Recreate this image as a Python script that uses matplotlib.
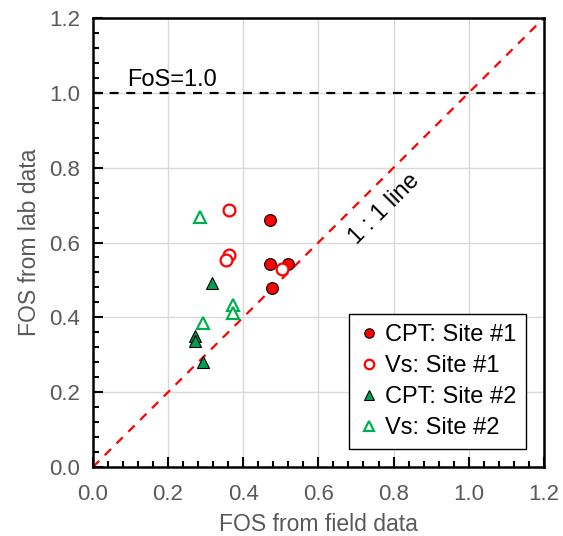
import matplotlib
matplotlib.use("Agg")
import matplotlib.pyplot as plt
from matplotlib.ticker import MultipleLocator

plt.rcParams['font.family'] = ['Liberation Sans', 'DejaVu Sans']

# Data
cpt1_x = [0.472, 0.472, 0.518, 0.476]
cpt1_y = [0.660, 0.542, 0.542, 0.479]
vs1_x = [0.362, 0.362, 0.354, 0.503]
vs1_y = [0.688, 0.566, 0.553, 0.529]
cpt2_x = [0.316, 0.272, 0.272, 0.294]
cpt2_y = [0.492, 0.350, 0.337, 0.280]
vs2_x = [0.286, 0.374, 0.374, 0.293]
vs2_y = [0.667, 0.432, 0.412, 0.384]
ticks = [0.0, 0.2, 0.4, 0.6, 0.8, 1.0, 1.2]
tick_labels = ["0.0", "0.2", "0.4", "0.6", "0.8", "1.0", "1.2"]

fig = plt.figure(figsize=(5.63, 5.36), dpi=100)
ax = fig.add_axes([0.165, 0.1287, 0.801, 0.8377])

ax.set_xlim(0, 1.2)
ax.set_ylim(0, 1.2)
ax.grid(True, which='major', color='#d9d9d9', linewidth=1.0, zorder=0)
ax.set_axisbelow(True)

ax.plot([0, 1.2], [0, 1.2], linestyle=(0, (4, 3.5)), color='#ff0000', linewidth=1.6, zorder=2)
ax.axhline(1.0, linestyle=(0, (4, 3.5)), color='black', linewidth=1.6, zorder=2)

ax.plot(cpt1_x, cpt1_y, 'o', ms=8.5, mfc='#ff0000', mec='black', mew=0.8, label='CPT: Site #1', zorder=4)
ax.plot(vs1_x, vs1_y, 'o', ms=8.5, mfc='white', mec='#ff0000', mew=1.6, label='Vs: Site #1', zorder=4)
ax.plot(cpt2_x, cpt2_y, '^', ms=8.5, mfc='#00a050', mec='black', mew=0.8, label='CPT: Site #2', zorder=4)
ax.plot(vs2_x, vs2_y, '^', ms=8.5, mfc='white', mec='#00b050', mew=1.6, label='Vs: Site #2', zorder=4)

ax.text(0.09, 1.019, 'FoS=1.0', fontsize=17, color='black')
ax.text(0.777, 0.69, '1 : 1 line', fontsize=17, rotation=45, ha='center', va='center', color='black')

ax.set_xticks(ticks)
ax.set_xticklabels(tick_labels)
ax.set_yticks(ticks)
ax.set_yticklabels(tick_labels)
ax.xaxis.set_minor_locator(MultipleLocator(0.04))
ax.yaxis.set_minor_locator(MultipleLocator(0.04))
ax.tick_params(which='major', direction='in', length=7, width=1.5, labelsize=16,
               labelcolor='#595959')
ax.tick_params(axis='x', which='major', pad=12)
ax.tick_params(axis='y', which='major', pad=9)
ax.tick_params(which='minor', direction='in', length=4, width=1.5)
for s in ax.spines.values():
    s.set_linewidth(1.8)
    s.set_color('black')

ax.set_xlabel('FOS from field data', fontsize=16.5, color='#595959', labelpad=6)
ax.set_ylabel('FOS from lab data', fontsize=16.5, color='#595959', labelpad=6)

leg = ax.legend(loc='lower right', bbox_to_anchor=(0.96, 0.04), borderaxespad=0, fontsize=17,
                frameon=True, fancybox=False, edgecolor='black', framealpha=1, markerscale=0.8,
                handlelength=0.9, handletextpad=0.2, borderpad=0.42, labelspacing=0.38)
leg.get_frame().set_linewidth(1.0)

fig.savefig('out.png', dpi=100)
